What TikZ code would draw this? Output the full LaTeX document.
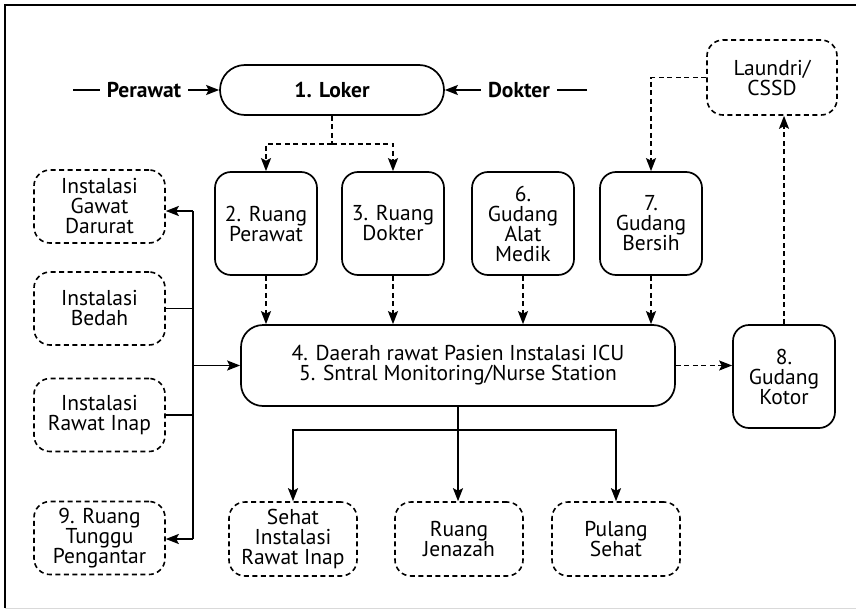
\documentclass[tikz,border=0pt]{standalone}
\usepackage{fontspec}
\setmainfont{PT Sans}
\usetikzlibrary{arrows.meta}
\begin{document}
\begin{tikzpicture}[x=1pt,y=-1pt,
  every node/.style={font=\fontsize{21.5}{20}\selectfont, align=center, inner sep=0pt},
  solidbox/.style={draw, line width=1.7pt, rounded corners=16pt},
  dashbox/.style={draw, line width=1.6pt, dash pattern=on 5pt off 3.5pt, rounded corners=16pt},
  sidelabel/.style={font=\fontsize{21.5}{20}\selectfont\bfseries, inner xsep=7pt},
  conn/.style={line width=1.7pt},
  arr/.style={conn, -{Stealth[length=13pt,width=10pt,inset=2.5pt]}},
  dconn/.style={line width=1.6pt, dash pattern=on 5pt off 3.5pt},
  darr/.style={dconn, -{Stealth[length=13pt,width=10pt,inset=2.5pt]}}
]
\useasboundingbox (0,0) rectangle (856,610);

% outer frame
\draw[line width=2.2pt] (856,5) -- (5,5) -- (5,608);
\draw[line width=0.8pt, black!15] (5,608) -- (856,608);

% locker and the two entrances
\node[solidbox, rounded corners=25pt, minimum width=224pt, minimum height=50pt,
      font=\fontsize{21.5}{20}\selectfont\bfseries] (loker) at (332,90) {1. Loker};
\node[sidelabel] (perawat) at (144,90) {Perawat};
\node[sidelabel] (dokter) at (519,90) {Dokter};
\coordinate (pin) at (73,90);
\coordinate (din) at (587,90);
\draw[conn] (pin) -- (perawat.west);
\draw[arr] (perawat.east) -- (loker.west);
\draw[conn] (din) -- (dokter.east);
\draw[arr] (dokter.west) -- (loker.east);

% staff rooms and stores
\node[solidbox, minimum width=102pt, minimum height=103pt] (b2) at (266,223.5) {2. Ruang\\Perawat};
\node[solidbox, minimum width=102pt, minimum height=103pt] (b3) at (393,223.5) {3. Ruang\\Dokter};
\node[solidbox, minimum width=102pt, minimum height=103pt] (b6) at (523,223.5) {6.\\Gudang\\Alat\\Medik};
\node[solidbox, minimum width=102pt, minimum height=103pt] (b7) at (651,223.5) {7.\\Gudang\\Bersih};

% ICU care area
\node[solidbox, rounded corners=22pt, minimum width=434pt, minimum height=81pt] (icu) at (458,365.5)
  {4. Daerah rawat Pasien Instalasi ICU\\5. Sntral Monitoring/Nurse Station};

% dirty store and laundry
\node[solidbox, minimum width=102pt, minimum height=103pt] (b8) at (784,376.5) {8.\\Gudang\\Kotor};
\node[dashbox, minimum width=130pt, minimum height=75pt] (laundri) at (772,77.5) {Laundri/\\CSSD};

% other units on the left
\node[dashbox, minimum width=131pt, minimum height=73pt] (igd) at (99.5,206.5) {Instalasi\\Gawat\\Darurat};
\node[dashbox, minimum width=131pt, minimum height=73pt] (bedah) at (99.5,308.5) {Instalasi\\Bedah};
\node[dashbox, minimum width=131pt, minimum height=73pt] (inap) at (99.5,415) {Instalasi\\Rawat Inap};
\node[dashbox, minimum width=131pt, minimum height=73pt] (tunggu) at (99.5,538) {9. Ruang\\Tunggu\\Pengantar};

% exits
\node[dashbox, minimum width=128pt, minimum height=74pt] (sehat) at (293,539) {Sehat\\Instalasi\\Rawat Inap};
\node[dashbox, minimum width=128pt, minimum height=74pt] (jenazah) at (459,539) {Ruang\\Jenazah};
\node[dashbox, minimum width=128pt, minimum height=74pt] (pulang) at (616,539) {Pulang\\Sehat};

% locker to staff rooms
\draw[dconn] (loker.south) -- ++(0,28) coordinate (split);
\draw[darr] (split) -| (b2.north);
\draw[darr] (split) -| (b3.north);

% rooms into the care area
\draw[darr] (b2.south) -- (b2.south |- icu.north);
\draw[darr] (b3.south) -- (b3.south |- icu.north);
\draw[darr] (b6.south) -- (b6.south |- icu.north);
\draw[darr] (b7.south) -- (b7.south |- icu.north);

% dirty / clean linen loop
\draw[darr] (icu.east) -- (icu.east -| b8.west);
\draw[darr] (b8.north) -- (b8.north |- laundri.south);
\draw[darr] (laundri.west) -| (b7.north);

% left bus
\coordinate (bt) at (193,211);
\coordinate (bb) at (193,539);
\draw[conn] (bt) -- (bb);
\draw[arr] (bt) -- (bt -| igd.east);
\draw[arr] (bb) -- (bb -| tunggu.east);
\draw[conn] (bedah.east) -- (bedah.east -| bt);
\draw[conn] (inap.east) -- (inap.east -| bt);
\draw[arr] (icu.west -| bt) -- (icu.west);

% exits from the care area
\draw[arr] (icu.south) -- (icu.south |- jenazah.north);
\coordinate (bj) at (458,430);
\draw[arr] (bj) -| (sehat.north);
\draw[arr] (bj) -| (pulang.north);
\end{tikzpicture}
\end{document}
